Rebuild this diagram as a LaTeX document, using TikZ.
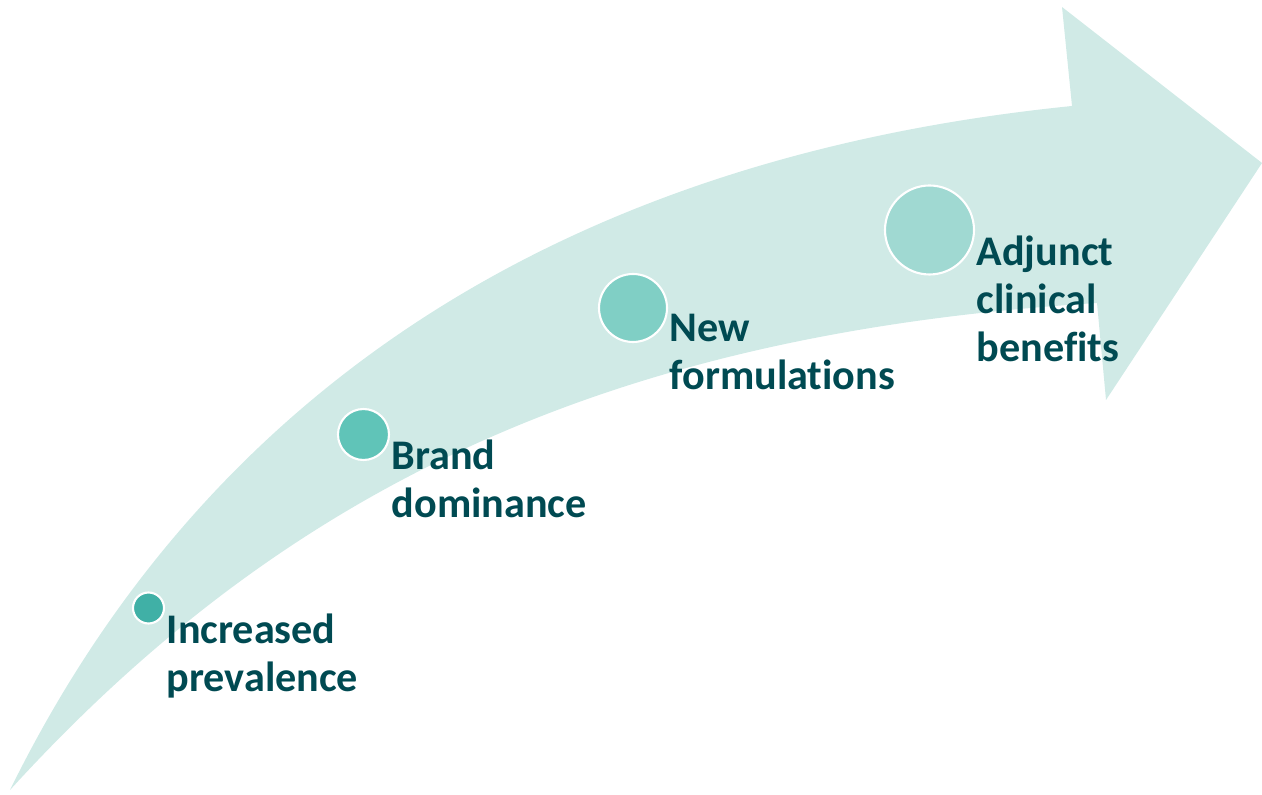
\documentclass[tikz,border=0pt]{standalone}
\usepackage{fontspec}
\setmainfont{Carlito}[Ligatures=CommonOff]
\usepackage{tikz}
\usetikzlibrary{positioning}
\usepackage{xcolor}

\definecolor{bandteal}{HTML}{D0EAE6}
\definecolor{textteal}{HTML}{004A52}
\definecolor{dotA}{HTML}{40B0A6}
\definecolor{dotB}{HTML}{60C4B8}
\definecolor{dotC}{HTML}{80CFC5}
\definecolor{dotD}{HTML}{A0D9D2}

\begin{document}
\begin{tikzpicture}[
        dot/.style={circle, draw=white, line width=0.6pt, inner sep=0pt},
        lbl/.style={inner sep=0pt, align=left, text=textteal, font=\fontsize{12}{13.7}\selectfont\bfseries}
    ]
        \useasboundingbox (0,0) rectangle (12.62,7.94);

        % Curved arrow
        \fill[bandteal] (0.10,0.04) .. controls (1.8,3.5) and (5.0,6.3) .. (10.72,6.88)
            -- (10.62,7.87) -- (12.62,6.31) -- (11.06,3.94) -- (10.97,4.91)
            .. controls (6.0,4.6) and (2.8,3.0) .. (0.10,0.04) -- cycle;

        % Milestones
        \node[dot, fill=dotA, minimum size=0.31cm] (prev) at (1.485,1.86) {};
        \node[dot, fill=dotB, minimum size=0.51cm] (brand) at (3.635,3.595) {};
        \node[dot, fill=dotC, minimum size=0.68cm] (form) at (6.33,4.86) {};
        \node[dot, fill=dotD, minimum size=0.89cm] (adj) at (9.295,5.64) {};

        % Labels
        \node[lbl, below right=0.05cm and 0.01cm of prev.east] (prevtxt) {Increased\\prevalence};
        \node[lbl, below right=0.05cm and 0.01cm of brand.east] (brandtxt) {Brand\\dominance};
        \node[lbl, below right=0.05cm and 0.01cm of form.east] (formtxt) {New\\formulations};
        \node[lbl, below right=0.05cm and 0.01cm of adj.east] (adjtxt) {Adjunct\\clinical\\benefits};
    \end{tikzpicture}
\end{document}
